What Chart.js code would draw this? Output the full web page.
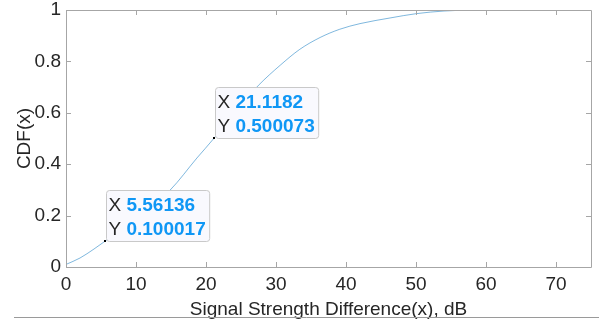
<!DOCTYPE html>
<html>
<head>
<meta charset="utf-8">
<script src="https://cdn.jsdelivr.net/npm/chart.js@4/dist/chart.umd.min.js"></script>
<style>
  html, body { margin: 0; padding: 0; background: #fff; }
  #wrap { width: 599px; height: 321px; position: relative; }
</style>
</head>
<body>
<div id="wrap"><canvas id="myChart"></canvas></div>
<script>
const xValues = [0, 2, 4, 5.56136, 8, 10, 12, 14.9, 18.7, 21.1182, 24, 27.5, 30.6, 33.4, 36.3, 39.1, 42, 46.3, 50.1, 54, 57.7];
const cdfValues = [0.01, 0.035, 0.07, 0.100017, 0.15, 0.19, 0.235, 0.30, 0.424, 0.500073, 0.6, 0.707, 0.785, 0.847, 0.893, 0.925, 0.947, 0.969, 0.986, 0.996, 1.0];

// data tips
const tipX = [5.56136, 21.1182];
const tipY = [0.100017, 0.500073];
const tipXText = ['5.56136', '21.1182'];
const tipYText = ['0.100017', '0.500073'];

const xTicks = [0, 10, 20, 30, 40, 50, 60, 70];
const yTicks = [0, 0.2, 0.4, 0.6, 0.8, 1];

const FONT = '"Liberation Sans", Arial, sans-serif';
const TEXT = '#262626';
const AXIS = '#a6a6a6';

const boxPlugin = {
    id: 'matlabBox',
    afterDraw(chart) {
        const ctx = chart.ctx;
        const a = chart.chartArea;
        const xs = chart.scales.x, ys = chart.scales.y;
        ctx.save();

        // axes box + inward ticks
        ctx.strokeStyle = AXIS;
        ctx.lineWidth = 1;
        ctx.beginPath();
        ctx.rect(Math.round(a.left) + 0.5, Math.round(a.top) + 0.5,
                 Math.round(a.right - a.left), Math.round(a.bottom - a.top));
        xTicks.forEach(v => {
            const px = Math.round(xs.getPixelForValue(v)) + 0.5;
            ctx.moveTo(px, a.bottom); ctx.lineTo(px, a.bottom - 5);
            ctx.moveTo(px, a.top); ctx.lineTo(px, a.top + 5);
        });
        yTicks.forEach(v => {
            const py = Math.round(ys.getPixelForValue(v)) + 0.5;
            ctx.moveTo(a.left, py); ctx.lineTo(a.left + 5, py);
            ctx.moveTo(a.right, py); ctx.lineTo(a.right - 5, py);
        });
        ctx.stroke();

        // data tips
        tipX.forEach((tx, i) => {
            const px = xs.getPixelForValue(tx);
            const py = ys.getPixelForValue(tipY[i]);
            ctx.font = '19px ' + FONT;
            const wLabel = ctx.measureText('X ').width;
            ctx.font = 'bold 19px ' + FONT;
            const wVal = Math.max(ctx.measureText(tipXText[i]).width, ctx.measureText(tipYText[i]).width);
            const w = wLabel + wVal + 6, h = 51;
            const bx = Math.round(px) + 1.5, by = Math.round(py) - h + 0.5;

            ctx.beginPath();
            ctx.roundRect(bx, by, w, h, 3);
            ctx.fillStyle = '#f9f9fe';
            ctx.fill();
            ctx.strokeStyle = '#c9c9c9';
            ctx.stroke();

            ctx.textBaseline = 'middle';
            ctx.textAlign = 'left';
            const rows = [['X ', tipXText[i]], ['Y ', tipYText[i]]];
            rows.forEach((r, j) => {
                const cy = by + 15 + j * 24;
                ctx.font = '19px ' + FONT;
                ctx.fillStyle = TEXT;
                ctx.fillText(r[0], bx + 2, cy);
                ctx.font = 'bold 19px ' + FONT;
                ctx.fillStyle = '#0f97f5';
                ctx.fillText(r[1], bx + 2 + wLabel, cy);
            });

            ctx.fillStyle = '#000';
            ctx.fillRect(Math.round(px) - 1, Math.round(py) - 1, 2, 2);
        });

        // figure edge line at the bottom
        ctx.strokeStyle = '#9a9a9a';
        ctx.beginPath();
        ctx.moveTo(14, 317.5); ctx.lineTo(599, 317.5);
        ctx.stroke();
        ctx.restore();
    }
};

const config = {
    type: 'scatter',
    data: {
        datasets: [{
            data: xValues.map((x, i) => ({x: x, y: cdfValues[i]})),
            showLine: true,
            borderColor: 'rgba(0, 114, 189, 0.5)',
            borderWidth: 1,
            pointRadius: 0,
            cubicInterpolationMode: 'monotone'
        }]
    },
    options: {
        responsive: false,
        animation: false,
        layout: { padding: { top: 10, right: 8, left: 0, bottom: 0 } },
        plugins: { legend: { display: false }, tooltip: { enabled: false } },
        scales: {
            x: {
                type: 'linear',
                min: 0, max: 75,
                afterBuildTicks: s => { s.ticks = xTicks.map(v => ({value: v})); },
                afterFit: s => { s.height = 54; s.paddingLeft = 0; s.paddingRight = 0; },
                grid: { display: false, drawTicks: false },
                border: { display: false },
                ticks: { color: TEXT, font: { family: FONT, size: 19 }, padding: 6, maxRotation: 0 },
                title: {
                    display: true,
                    text: 'Signal Strength Difference(x), dB',
                    color: TEXT,
                    font: { family: FONT, size: 19 },
                    padding: { top: 0, bottom: 0 }
                }
            },
            y: {
                min: 0, max: 1,
                afterBuildTicks: s => { s.ticks = yTicks.map(v => ({value: v})); },
                afterFit: s => { s.width = 66; s.paddingTop = 0; s.paddingBottom = 0; },
                grid: { display: false, drawTicks: false },
                border: { display: false },
                ticks: {
                    color: TEXT, font: { family: FONT, size: 19 }, padding: 5,
                    callback: v => String(Math.round(v * 10) / 10)
                },
                title: {
                    display: true,
                    text: 'CDF(x)',
                    color: TEXT,
                    font: { family: FONT, size: 19 },
                    padding: { top: 13, bottom: 0 }
                }
            }
        }
    },
    plugins: [boxPlugin]
};

const canvas = document.getElementById('myChart');
canvas.width = 599;
canvas.height = 321;
new Chart(canvas, config);
</script>
</body>
</html>
